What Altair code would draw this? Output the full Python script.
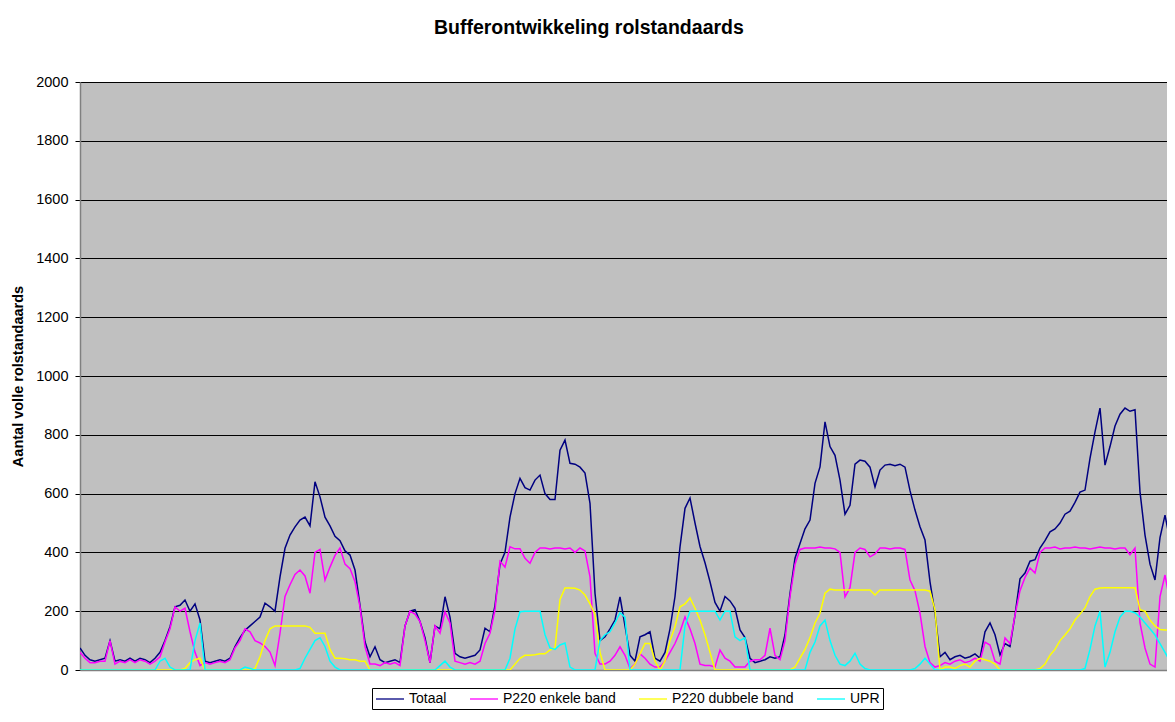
import altair as alt
import pandas as pd

# sample index along the (unlabelled) time axis
tijdstap = list(range(220))

totaal = [
    75, 50, 35, 30, 35, 40, 100, 30, 35, 30,
    40, 30, 40, 35, 25, 40, 60, 100, 147, 215,
    220, 238, 200, 225, 170, 30, 25, 30, 35, 30,
    40, 80, 110, 135, 150, 165, 180, 227, 215, 200,
    317, 414, 459, 487, 510, 520, 490, 640, 589, 520,
    490, 455, 440, 405, 391, 340, 220, 96, 45, 79,
    35, 25, 30, 35, 25, 150, 200, 205, 165, 110,
    25, 150, 140, 249, 180, 57, 45, 40, 45, 50,
    68, 142, 130, 220, 360, 400, 520, 600, 652, 620,
    612, 646, 663, 600, 580, 580, 748, 782, 703, 700,
    690, 670, 567, 261, 100, 113, 140, 170, 249, 150,
    50, 30, 113, 120, 130, 40, 30, 60, 140, 250,
    419, 550, 585, 500, 420, 365, 300, 230, 200, 250,
    235, 210, 136, 110, 40, 25, 30, 35, 45, 40,
    45, 120, 260, 380, 430, 480, 510, 635, 691, 844,
    760, 730, 646, 530, 560, 700, 714, 710, 690, 623,
    680, 697, 700, 695, 700, 690, 610, 544, 487, 442,
    300, 193, 45, 60, 35, 45, 50, 40, 45, 55,
    40, 130, 160, 120, 51, 90, 80, 187, 310, 330,
    370, 375, 415, 440, 470, 480, 500, 530, 540, 570,
    605, 612, 720, 810, 891, 697, 760, 830, 870, 891,
    880, 885, 606, 459, 360, 306, 450, 527, 440, 410,
]

p220_enkel = [
    60, 40, 25, 25, 30, 30, 100, 20, 30, 25,
    35, 25, 35, 30, 20, 30, 45, 95, 140, 215,
    200, 210, 130, 60, 15, 25, 20, 25, 30, 25,
    35, 75, 100, 140, 130, 100, 92, 80, 61, 15,
    125, 250, 290, 325, 340, 320, 261, 400, 410, 306,
    350, 390, 415, 360, 345, 300, 215, 80, 20, 20,
    15, 25, 20, 25, 15, 150, 200, 190, 165, 100,
    25, 150, 125, 198, 160, 30, 25, 20, 25, 20,
    30, 90, 125, 204, 370, 350, 419, 412, 412, 380,
    363, 400, 415, 415, 412, 415, 415, 412, 415, 400,
    415, 405, 317, 57, 20, 20, 30, 50, 79, 50,
    5, 20, 55, 40, 20, 10, 10, 30, 60, 90,
    130, 181, 140, 90, 20, 15, 15, 10, 68, 40,
    30, 10, 10, 10, 30, 35, 35, 50, 142, 50,
    35, 100, 250, 360, 410, 415, 415, 415, 418, 415,
    415, 412, 400, 249, 280, 400, 415, 410, 385, 395,
    415, 415, 412, 415, 415, 410, 306, 270, 193, 80,
    25, 10, 15, 25, 20, 30, 35, 25, 30, 40,
    30, 95, 85, 30, 20, 109, 90, 187, 270, 315,
    347, 330, 400, 415, 415, 418, 412, 415, 415, 418,
    415, 415, 412, 415, 418, 415, 415, 412, 415, 415,
    392, 415, 160, 75, 20, 10, 250, 323, 232, 300,
]

p220_dubbel = [
    0, 0, 0, 0, 0, 0, 0, 0, 0, 0,
    0, 0, 0, 0, 0, 0, 0, 0, 0, 0,
    0, 5, 25, 35, 40, 0, 0, 0, 0, 0,
    0, 0, 0, 0, 0, 5, 45, 100, 140, 150,
    150, 150, 150, 150, 150, 150, 145, 125, 125, 125,
    70, 40, 40, 38, 35, 35, 30, 30, 0, 0,
    0, 0, 0, 0, 0, 0, 0, 0, 0, 0,
    0, 0, 0, 0, 0, 0, 0, 0, 0, 0,
    0, 0, 0, 0, 0, 0, 0, 20, 40, 50,
    50, 52, 55, 55, 68, 75, 240, 279, 279, 278,
    272, 255, 225, 190, 60, 0, 0, 0, 0, 0,
    0, 20, 55, 90, 90, 30, 0, 30, 100, 147,
    215, 225, 245, 210, 170, 120, 60, 0, 0, 0,
    0, 0, 0, 0, 0, 0, 0, 0, 0, 0,
    0, 0, 0, 10, 40, 70, 110, 160, 193, 261,
    275, 272, 272, 272, 272, 272, 272, 272, 272, 255,
    272, 272, 272, 272, 272, 272, 272, 272, 272, 272,
    268, 204, 0, 10, 10, 5, 15, 20, 10, 30,
    40, 35, 30, 20, 0, 0, 0, 0, 0, 0,
    0, 0, 5, 20, 50, 70, 100, 119, 140, 170,
    190, 211, 250, 275, 279, 280, 280, 280, 280, 280,
    280, 280, 205, 200, 170, 150, 138, 136, 136, 136,
]

upr = [
    0, 0, 0, 0, 0, 0, 0, 0, 0, 0,
    0, 0, 0, 0, 0, 0, 30, 40, 10, 0,
    0, 0, 0, 100, 160, 0, 0, 0, 0, 0,
    0, 0, 0, 10, 5, 0, 0, 0, 0, 0,
    0, 0, 0, 0, 5, 40, 70, 100, 110, 80,
    30, 10, 0, 0, 0, 0, 0, 0, 0, 0,
    0, 0, 0, 0, 0, 0, 0, 0, 0, 0,
    0, 0, 15, 30, 10, 0, 0, 0, 0, 0,
    0, 0, 0, 0, 0, 0, 40, 140, 198, 200,
    200, 200, 200, 120, 75, 70, 85, 92, 10, 0,
    0, 0, 0, 0, 100, 120, 130, 160, 195, 180,
    0, 0, 0, 0, 0, 0, 0, 0, 0, 0,
    0, 150, 200, 200, 200, 200, 200, 200, 170, 200,
    200, 113, 100, 110, 0, 0, 0, 0, 0, 0,
    0, 0, 0, 0, 0, 0, 60, 95, 150, 170,
    100, 50, 20, 15, 30, 57, 20, 5, 0, 0,
    0, 0, 0, 0, 0, 0, 0, 5, 20, 40,
    20, 0, 0, 0, 0, 0, 0, 0, 0, 0,
    0, 0, 0, 0, 0, 0, 0, 0, 0, 0,
    0, 0, 0, 0, 0, 0, 0, 0, 0, 0,
    0, 5, 70, 150, 200, 10, 60, 130, 180, 200,
    200, 195, 180, 160, 140, 119, 90, 60, 30, 10,
]

series_names = ["Totaal", "P220 enkele band", "P220 dubbele band", "UPR"]
series_colors = ["#000080", "#FF00FF", "#FFFF00", "#00FFFF"]
y_ticks = [0, 200, 400, 600, 800, 1000, 1200, 1400, 1600, 1800, 2000]

rows = []
for name, vals in zip(series_names, [totaal, p220_enkel, p220_dubbel, upr]):
    for t, v in zip(tijdstap, vals):
        rows.append({"t": t, "serie": name, "waarde": v})
df = pd.DataFrame(rows)

FONT = "Liberation Sans"

chart = (
    alt.Chart(df)
    .mark_line(strokeWidth=1.5, clip=True)
    .encode(
        x=alt.X(
            "t:Q",
            scale=alt.Scale(domain=[0, 217.4], nice=False, zero=False),
            axis=alt.Axis(
                title=None, labels=False, ticks=False, grid=False,
                domainColor="#808080", domainWidth=1.5,
            ),
        ),
        y=alt.Y(
            "waarde:Q",
            scale=alt.Scale(domain=[0, 2000], nice=False),
            axis=alt.Axis(
                title="Aantal volle rolstandaards",
                values=y_ticks, format="d",
                grid=True, gridColor="black", gridWidth=1, gridOpacity=1,
                tickColor="black", tickSize=5, tickWidth=1,
                labelPadding=7, labelFont=FONT, labelFontSize=14.5, labelColor="black",
                titleFont=FONT, titleFontSize=14.5, titleFontWeight="bold",
                titleColor="black", titlePadding=10,
                domainColor="#808080", domainWidth=1.5,
            ),
        ),
        color=alt.Color(
            "serie:N",
            sort=series_names,
            scale=alt.Scale(domain=series_names, range=series_colors),
            legend=alt.Legend(
                title=None, orient="none", legendX=292, legendY=606,
                direction="horizontal", columns=4,
                symbolType="M-1,0H3", symbolSize=196, symbolStrokeWidth=1.3,
                labelFont=FONT, labelFontSize=14, labelColor="black",
                labelOffset=18, columnPadding=20, padding=3,
                strokeColor="black", fillColor="white",
            ),
        ),
    )
    .properties(
        width=1087,
        height=588,
        title=alt.TitleParams(
            "Bufferontwikkeling rolstandaards",
            font=FONT, fontSize=19.5, fontWeight="bold", color="black",
            anchor="middle", frame="bounds", offset=36,
        ),
        autosize=alt.AutoSizeParams(type="none"),
        padding={"left": 72, "top": 74, "right": 0, "bottom": 42},
    )
    .configure_view(fill="#C0C0C0", stroke="transparent")
)

chart.save("out.html", embed_options={"renderer": "svg", "actions": False})
